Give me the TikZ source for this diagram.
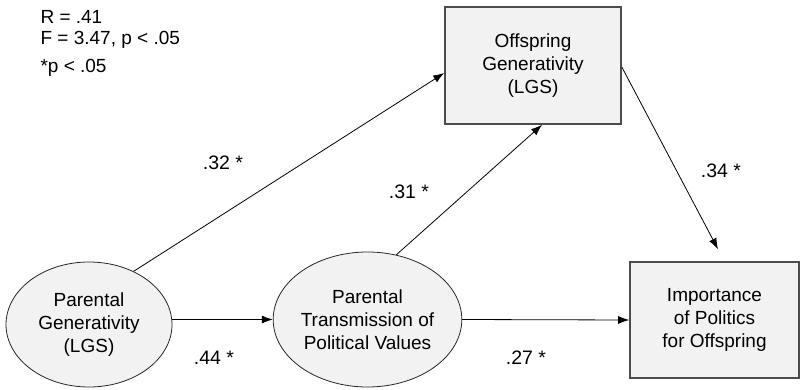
\documentclass[tikz,border=0pt]{standalone}
\usepackage{fontspec}
\setmainfont{Liberation Sans}
\usetikzlibrary{shapes.geometric,arrows.meta}

\begin{document}
\begin{tikzpicture}[x=1pt,y=1pt,
  latent/.style={ellipse, draw=black!85, line width=0.8pt, fill=gray!10,
    inner sep=0pt, align=center, font=\fontsize{19}{23}\selectfont},
  observed/.style={rectangle, draw=black!70, line width=1.6pt, fill=gray!10,
    inner sep=0pt, align=center, font=\fontsize{19}{23}\selectfont},
  effect/.style={-{Latex[length=11pt,width=8pt]}, line width=0.8pt},
  coef/.style={font=\fontsize{19.5}{23}\selectfont},
  fit/.style={anchor=base west, font=\fontsize{19}{23}\selectfont}]

  % Fix the page to the size of the reference
  \useasboundingbox (0,0) rectangle (800,389);

  % Fit statistics in the top left corner
  \node[fit] (rval) at (37,365) {R = .41};
  \node[fit] (fval) at (37,344) {F = 3.47, p < .05};
  \node[fit] (sig)  at (37,316) {*p < .05};

  % The two ellipses (parental measures)
  \node[latent, minimum width=166, minimum height=125] (pg) at (89,64.5)
    {Parental\\Generativity\\(LGS)};
  \node[latent, minimum width=175, minimum height=135] (ptv) at (367.5,69.5)
    {Parental\\Transmission of\\Political Values};

  % The two boxes (offspring measures)
  \node[observed, minimum width=176, minimum height=117] (og) at (533,323.5)
    {Offspring\\Generativity\\(LGS)};
  \node[observed, minimum width=169, minimum height=116] (ipo) at (714.5,69)
    {Importance\\of Politics\\for Offspring};

  % Arrow into the lower box stops short of its top side
  \coordinate (ipotop) at ([xshift=3.5pt,yshift=12pt]ipo.north);

  % Paths
  \draw[effect] (pg.east |- ptv.west) -- (ptv.west);
  \draw[effect] (ptv.east) -- (ipo.west);
  \draw[effect] (pg.50) -- ([yshift=-7.5pt]og.west);
  \draw[effect] (ptv.66) -- ([xshift=9pt]og.south);
  \draw[effect] ([yshift=-1.5pt]og.east) -- (ipotop);

  % Path coefficients
  \node[coef] (c32) at (223,226) {.32 *};
  \node[coef] (c31) at (409,197) {.31 *};
  \node[coef] (c34) at (721,218) {.34 *};
  \node[coef] (c44) at (214,31.5) {.44 *};
  \node[coef] (c27) at (526,31) {.27 *};

\end{tikzpicture}
\end{document}
